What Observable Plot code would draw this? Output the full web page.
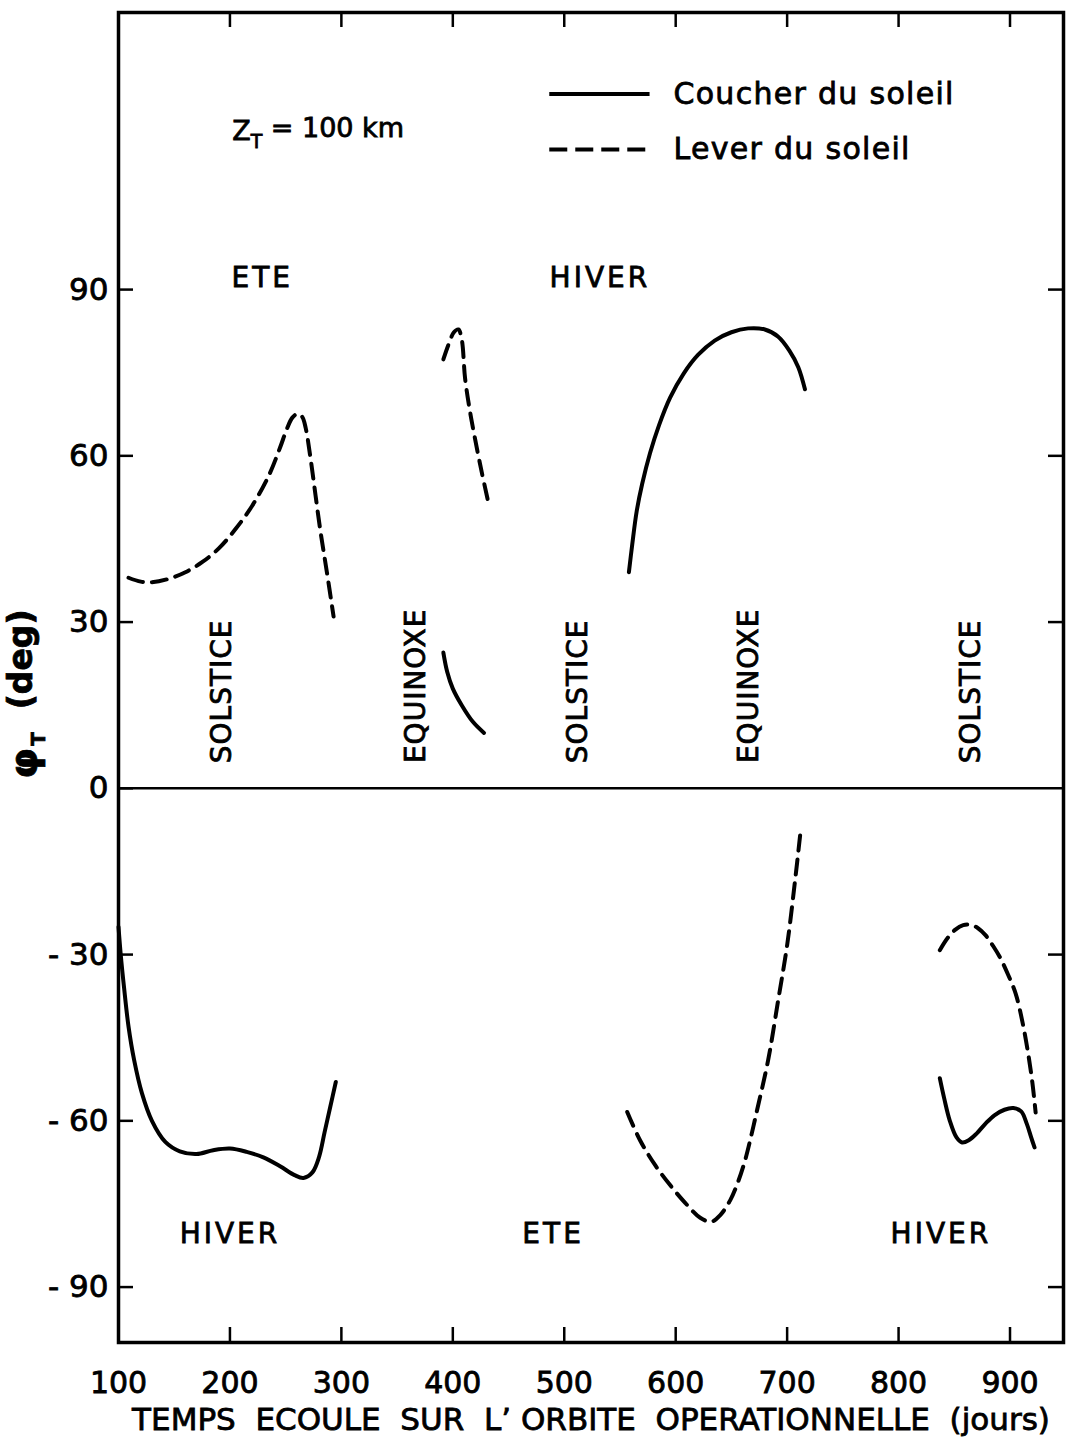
<!DOCTYPE html>
<html>
<head>
<meta charset="utf-8">
<script src="https://cdn.jsdelivr.net/npm/d3@7"></script>
<script src="https://cdn.jsdelivr.net/npm/@observablehq/plot@0.6"></script>
<style>
  html, body { margin: 0; padding: 0; background: #fff; }
  #chart svg { display: block; }
</style>
</head>
<body>
<div id="chart"></div>
<script>
// ---------- axis ticks ----------
const xTickValues = [100, 200, 300, 400, 500, 600, 700, 800, 900];
const xInnerTicks = [200, 300, 400, 500, 600, 700, 800, 900];
const yTickValues = [-90, -60, -30, 0, 30, 60, 90];
const yRightTicks = [-90, -60, -30, 30, 60, 90];

// ---------- curves: [day, latitude deg] ----------
// Lever du soleil (dashed)
const leverEteNord = [[109,38],[120,37.3],[130,37.2],[145,37.8],[160,39],[175,40.8],[190,43.3],[205,46.8],[220,51],[235,56.5],[245,61.5],[251,64.8],[256,66.9],[261,67.6],[265,67],[268,65],[272,60],[281,46.7],[287,39],[293,31]];
const leverEquinoxeNord = [[391.5,77.4],[396,80],[401,82.3],[405,82.8],[408,81],[411,74],[415,68.5],[420,63],[426,57],[432,51.5]];
const leverEteSud = [[556.5,-58.4],[568,-63.5],[581.6,-68],[595,-71.6],[608.5,-74.8],[622,-77.5],[632,-78.2],[640,-77],[649,-74.3],[656,-71],[662.3,-67.1],[668,-62.5],[673.1,-58],[683,-49],[692,-38.2],[700,-28.3],[707.2,-16.5],[711.7,-8.4]];
const leverSolsticeSud = [[837,-29.2],[844,-27],[851,-25.5],[858,-24.7],[864,-24.6],[871,-25.2],[878,-26.5],[885,-28.5],[891,-30.5],[898,-33.5],[905,-37],[911,-42],[916,-47.5],[920,-53],[923,-58.5]];
// Coucher du soleil (solid)
const coucherEquinoxeNord = [[391.5,24.5],[395,21],[400,18],[408,15],[418,12],[428,10]];
const coucherHiverNord = [[558,39],[561,44],[565,50],[570,55],[577,60.5],[585,65.5],[595,70.5],[607,74.8],[620,78.2],[635,80.8],[650,82.3],[665,83],[680,82.8],[692,81.5],[702,79],[710,76],[716,72]];
const coucherHiverSud = [[100,-25],[102,-30],[105,-36],[109,-43],[114,-49],[121,-55],[130,-60],[142,-63.8],[155,-65.5],[170,-66],[185,-65.3],[200,-65],[215,-65.6],[230,-66.6],[245,-68.2],[258,-69.8],[266,-70.3],[274,-69.3],[280,-66.5],[285,-62],[290,-57.5],[295,-53]];
const coucherSolsticeSud = [[837,-52.3],[841,-56],[846,-60],[852,-63],[857,-63.9],[863,-63.5],[870,-62.3],[878,-60.5],[886,-59],[895,-58],[903,-57.7],[910,-58.3],[915,-60.5],[919,-63],[922,-64.8]];

// ---------- annotations (data units) ----------
const seasonLabels = [
  {x: 229, y: 92, text: "ETE"},
  {x: 532, y: 92, text: "HIVER"},
  {x: 200, y: -80.5, text: "HIVER"},
  {x: 490, y: -80.5, text: "ETE"},
  {x: 838, y: -80.5, text: "HIVER"}
];
const periodLabels = [
  {x: 193, y: 17.5, text: "SOLSTICE"},
  {x: 367, y: 18.5, text: "EQUINOXE"},
  {x: 512, y: 17.5, text: "SOLSTICE"},
  {x: 666, y: 18.5, text: "EQUINOXE"},
  {x: 865, y: 17.5, text: "SOLSTICE"}
];
const altitudeLabel = [{x: 202, y: 118.5, text: "ZT = 100 km"}];
const legendItems = [
  {x1: 487, x2: 577, xt: 598, y: 125.3, text: "Coucher du soleil", dashed: false},
  {x1: 487, x2: 577, xt: 598, y: 115.3, text: "Lever du soleil", dashed: true}
];
const xLabel = "TEMPS  ECOULE  SUR  L\u2019 ORBITE  OPERATIONNELLE  (jours)";
const yLabel = [{y: 17, text: "\u03C6T (deg)"}];

// ---------- build tables ----------
function toRows(arr, seg) { return arr.map(([x, y]) => ({x, y, seg})); }
const dashedRows = [
  ...toRows(leverEteNord, "a"), ...toRows(leverEquinoxeNord, "b"),
  ...toRows(leverEteSud, "c"), ...toRows(leverSolsticeSud, "d")
];
const solidRows = [
  ...toRows(coucherEquinoxeNord, "e"), ...toRows(coucherHiverNord, "f"),
  ...toRows(coucherHiverSud, "g"), ...toRows(coucherSolsticeSud, "h")
];

const W = 1068, H = 1449, mL = 118, mR = 5, mT = 12, mB = 107;
const plotW = W - mL - mR, plotH = H - mT - mB;
const tickLen = 15;
const FONT = "DejaVu Sans";
const DASH = "15,9";

const chart = Plot.plot({
  width: W, height: H,
  marginLeft: mL, marginRight: mR, marginTop: mT, marginBottom: mB,
  x: {domain: [100, 948]},
  y: {domain: [-100, 140]},
  style: {fontFamily: FONT, color: "#000", background: "#fff", overflow: "visible"},
  marks: [
    Plot.ruleY([0], {stroke: "#000", strokeWidth: 2.5}),
    // inward ticks
    Plot.tickX(xInnerTicks, {x: d => d, insetTop: plotH - tickLen, stroke: "#000", strokeWidth: 2.5}),
    Plot.tickX(xInnerTicks, {x: d => d, insetBottom: plotH - tickLen, stroke: "#000", strokeWidth: 2.5}),
    Plot.tickY(yTickValues, {y: d => d, insetRight: plotW - tickLen, stroke: "#000", strokeWidth: 2.5}),
    Plot.tickY(yRightTicks, {y: d => d, insetLeft: plotW - tickLen, stroke: "#000", strokeWidth: 2.5}),
    // tick labels
    Plot.axisX(xTickValues, {tickSize: 0, tickPadding: 29, fontSize: 30, label: null, tickFormat: d => String(d)}),
    Plot.axisY(yTickValues, {tickSize: 0, tickPadding: 10, fontSize: 31, label: null,
      tickFormat: d => d < 0 ? "- " + Math.abs(d) : String(d)}),
    // axis titles
    Plot.text([xLabel], {text: d => d, frameAnchor: "bottom", dy: 78, fontSize: 31, lineAnchor: "middle", textAnchor: "middle"}),
    Plot.text(yLabel, {y: "y", text: "text", frameAnchor: "left", dx: -92, rotate: -90, fontSize: 33, fontWeight: "bold", lineAnchor: "middle", textAnchor: "middle"}),
    // curves
    Plot.line(solidRows, {x: "x", y: "y", z: "seg", stroke: "#000", strokeWidth: 4, curve: "catmull-rom", strokeLinecap: "round"}),
    Plot.line(dashedRows, {x: "x", y: "y", z: "seg", stroke: "#000", strokeWidth: 4, curve: "catmull-rom", strokeDasharray: DASH}),
    // annotations
    Plot.text(seasonLabels, {x: "x", y: "y", text: "text", fontSize: 28, lineAnchor: "middle", textAnchor: "middle"}),
    Plot.text(periodLabels, {x: "x", y: "y", text: "text", fontSize: 28, rotate: -90, lineAnchor: "middle", textAnchor: "middle"}),
    Plot.text(altitudeLabel, {x: "x", y: "y", text: "text", fontSize: 27, textAnchor: "start", lineAnchor: "middle"}),
    // legend
    Plot.ruleY(legendItems.filter(d => !d.dashed), {x1: "x1", x2: "x2", y: "y", stroke: "#000", strokeWidth: 4}),
    Plot.ruleY(legendItems.filter(d => d.dashed), {x1: "x1", x2: "x2", y: "y", stroke: "#000", strokeWidth: 4, strokeDasharray: "18,8"}),
    Plot.text(legendItems, {x: "xt", y: "y", text: "text", fontSize: 30, textAnchor: "start", lineAnchor: "middle"}),
    Plot.frame({stroke: "#000", strokeWidth: 3.5})
  ]
});

// letter spacing per label family
const seasonSet = new Set(seasonLabels.map(d => d.text));
const periodSet = new Set(periodLabels.map(d => d.text));
const legendSet = new Set(legendItems.map(d => d.text));
d3.select(chart).selectAll("text").each(function() {
  const t = this.textContent;
  const s = d3.select(this);
  if (seasonSet.has(t)) s.style("letter-spacing", "3px");
  else if (periodSet.has(t)) s.style("letter-spacing", "1px");
  else if (legendSet.has(t)) s.style("letter-spacing", "1.3px");
});

// subscripts
d3.select(chart).selectAll("text").each(function() {
  const t = this.textContent;
  if (t === "ZT = 100 km") {
    const s = d3.select(this); s.text(null);
    s.append("tspan").text("Z");
    s.append("tspan").attr("dy", "0.4em").attr("font-size", "0.7em").text("T");
    s.append("tspan").attr("dy", "-0.4em").text(" = 100 km");
  } else if (t === "\u03C6T (deg)") {
    const s = d3.select(this); s.text(null);
    s.append("tspan").attr("font-size", "1.2em").text("\u03C6");
    s.append("tspan").attr("dx", "2").attr("dy", "0.4em").attr("font-size", "0.6em").text("T");
    s.append("tspan").attr("dy", "-0.4em").text("  (deg)");
  }
});
// heavier pen, like the lettering of the original
d3.select(chart).selectAll("text").filter(function() { return this.getAttribute("font-weight") !== "bold"; })
  .attr("stroke", "#000").attr("stroke-width", 0.8).attr("paint-order", "stroke").style("white-space", "pre");

document.getElementById("chart").appendChild(chart);
</script>
</body>
</html>
